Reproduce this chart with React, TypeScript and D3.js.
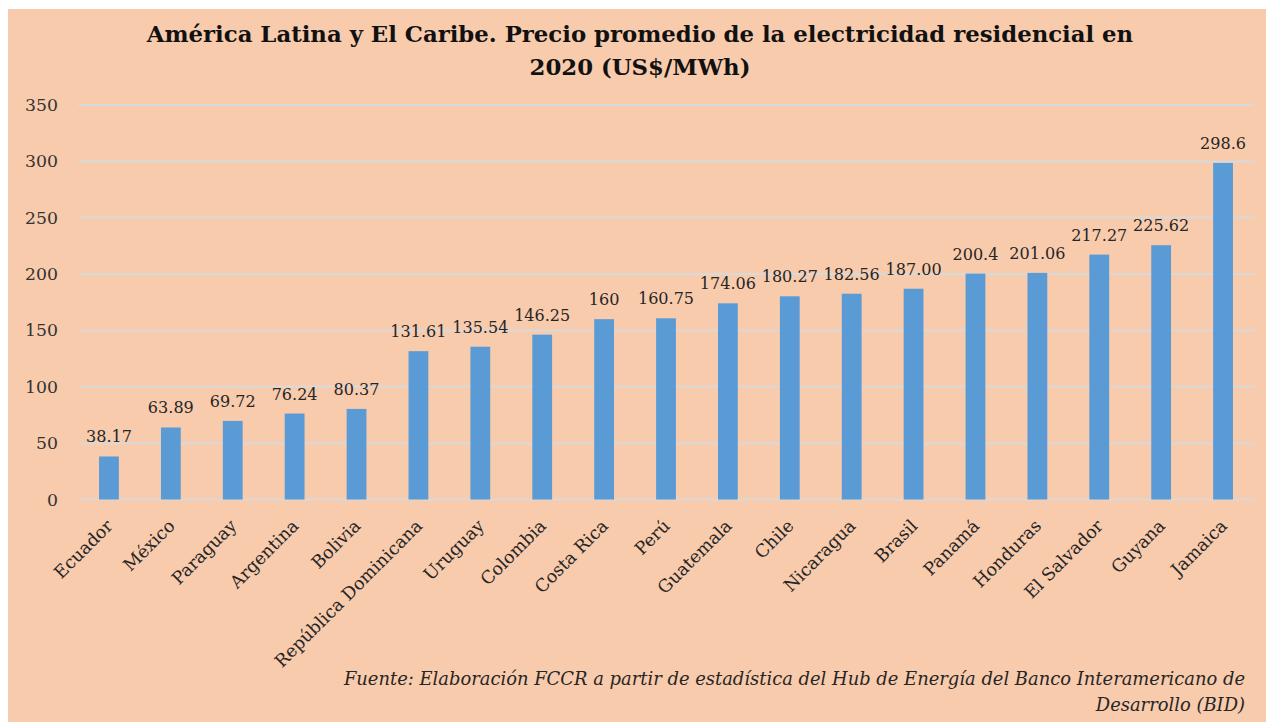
import React, { useEffect, useRef } from 'react';
import * as d3 from 'd3';

const countries = [
  'Ecuador', 'México', 'Paraguay', 'Argentina', 'Bolivia', 'República Dominicana',
  'Uruguay', 'Colombia', 'Costa Rica', 'Perú', 'Guatemala', 'Chile', 'Nicaragua',
  'Brasil', 'Panamá', 'Honduras', 'El Salvador', 'Guyana', 'Jamaica'
];
const prices = [
  38.17, 63.89, 69.72, 76.24, 80.37, 131.61, 135.54, 146.25, 160, 160.75,
  174.06, 180.27, 182.56, 187.0, 200.4, 201.06, 217.27, 225.62, 298.6
];
const priceLabels = [
  '38.17', '63.89', '69.72', '76.24', '80.37', '131.61', '135.54', '146.25', '160', '160.75',
  '174.06', '180.27', '182.56', '187.00', '200.4', '201.06', '217.27', '225.62', '298.6'
];
const yTicks = [0, 50, 100, 150, 200, 250, 300, 350];
const titleLines = [
  'América Latina y El Caribe. Precio promedio de la electricidad residencial en',
  '2020 (US$/MWh)'
];
const sourceLines = [
  'Fuente: Elaboración FCCR a partir de estadística del Hub de Energía del Banco Interamericano de',
  'Desarrollo (BID)'
];

const W = 1266;
const H = 722;

const App = () => {
  const svgRef = useRef(null);

  useEffect(() => {
    const svg = d3.select(svgRef.current);
    svg.selectAll('*').remove();

    // find a serif face that is really installed
    const measure = (fam, opts = {}) => {
      const t = svg.append('text')
        .attr('font-family', fam)
        .attr('font-size', opts.size || 40)
        .attr('font-weight', opts.weight || 'normal')
        .attr('font-style', opts.style || 'normal')
        .text(opts.text || 'América Latina Wg 0123 iiill');
      const w = t.node().getComputedTextLength();
      t.remove();
      return w;
    };
    const bogus = measure('NoSuchFontAtAllXyz');
    const candidates = ['Liberation Serif', 'DejaVu Serif', 'Noto Serif', 'Tinos', 'Times New Roman', 'Times', 'Georgia', 'serif'];
    const found = candidates.find(f => Math.abs(measure(`'${f}'`) - bogus) > 0.5);
    const serif = found ? `'${found}', serif` : 'serif';

    // size a font so a sample string gets the width seen in the reference
    const fit = (text, width, opts = {}) => {
      const w = measure(serif, { ...opts, text, size: 40 });
      return 40 * width / w;
    };
    const titleSize = fit(titleLines[0], 987, { weight: 'bold' });
    const noteSize = fit(sourceLines[0], 902, { style: 'italic' });
    const tickSize = fit('350', 33);
    const valueSize = fit('38.17', 46);
    const catSize = fit('República Dominicana', 200);

    svg.append('rect')
      .attr('x', 8)
      .attr('y', 9)
      .attr('width', W - 8)
      .attr('height', H - 9)
      .attr('fill', '#F8CBAD');

    const x = d3.scaleBand()
      .domain(countries)
      .range([78, 1254])
      .paddingInner(0.68)
      .paddingOuter(0.34);

    const y = d3.scaleLinear()
      .domain([0, 350])
      .range([499.5, 105]);

    // gridlines
    svg.append('g')
      .selectAll('line')
      .data(yTicks)
      .enter()
      .append('line')
      .attr('x1', 78)
      .attr('x2', 1254)
      .attr('y1', d => y(d))
      .attr('y2', d => y(d))
      .attr('stroke', '#D9D9D9')
      .attr('stroke-width', 2);

    svg.append('g')
      .selectAll('text')
      .data(yTicks)
      .enter()
      .append('text')
      .attr('x', 58)
      .attr('y', d => y(d))
      .attr('dy', '0.35em')
      .attr('text-anchor', 'end')
      .attr('font-family', serif)
      .attr('font-size', tickSize)
      .attr('fill', '#333')
      .text(d => d);

    svg.append('g')
      .selectAll('rect')
      .data(prices)
      .enter()
      .append('rect')
      .attr('x', (d, i) => x(countries[i]))
      .attr('y', d => y(d))
      .attr('width', x.bandwidth())
      .attr('height', d => y(0) - y(d))
      .attr('fill', '#5B9BD5');

    svg.append('g')
      .selectAll('text')
      .data(prices)
      .enter()
      .append('text')
      .attr('x', (d, i) => x(countries[i]) + x.bandwidth() / 2)
      .attr('y', d => y(d) - 14)
      .attr('text-anchor', 'middle')
      .attr('font-family', serif)
      .attr('font-size', valueSize)
      .attr('fill', '#262626')
      .text((d, i) => priceLabels[i]);

    svg.append('g')
      .selectAll('text')
      .data(countries)
      .enter()
      .append('text')
      .attr('transform', d => `translate(${x(d) + x.bandwidth() / 2 + 5},${527}) rotate(-45)`)
      .attr('text-anchor', 'end')
      .attr('font-family', serif)
      .attr('font-size', catSize)
      .attr('fill', '#262626')
      .text(d => d);

    svg.append('g')
      .selectAll('text')
      .data(titleLines)
      .enter()
      .append('text')
      .attr('x', 640)
      .attr('y', (d, i) => 42 + i * 33)
      .attr('text-anchor', 'middle')
      .attr('font-family', serif)
      .attr('font-size', titleSize)
      .attr('font-weight', 'bold')
      .attr('fill', '#111')
      .text(d => d);

    svg.append('g')
      .selectAll('text')
      .data(sourceLines)
      .enter()
      .append('text')
      .attr('x', 1245)
      .attr('y', (d, i) => 685 + i * 26)
      .attr('text-anchor', 'end')
      .attr('font-family', serif)
      .attr('font-size', noteSize)
      .attr('font-style', 'italic')
      .attr('fill', '#262626')
      .text(d => d);
  }, []);

  return (
    <svg
      ref={svgRef}
      width={W}
      height={H}
      style={{ position: 'absolute', left: 0, top: 0, display: 'block' }}
    ></svg>
  );
};

export default App;
